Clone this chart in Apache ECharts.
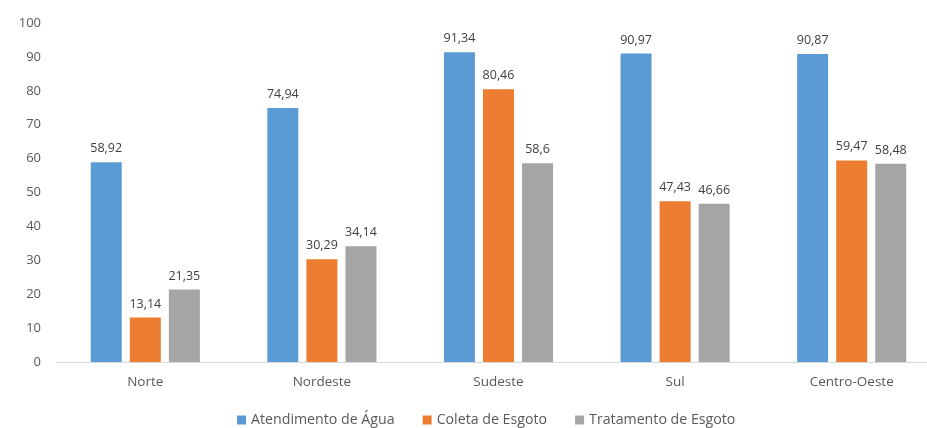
<!DOCTYPE html>
<html><head><meta charset="utf-8">
<script src="https://cdn.jsdelivr.net/npm/echarts@6/dist/echarts.min.js"></script>
<style>html,body{margin:0;padding:0;background:#fff;overflow:hidden}#c{width:940px;height:428px}</style>
</head><body><div id="c"></div>
<script>
const categories = ['Norte', 'Nordeste', 'Sudeste', 'Sul', 'Centro-Oeste'];
const agua = [58.92, 74.94, 91.34, 90.97, 90.87];
const coleta = [13.14, 30.29, 80.46, 47.43, 59.47];
const tratamento = [21.35, 34.14, 58.6, 46.66, 58.48];
const seriesNames = ['Atendimento de Água', 'Coleta de Esgoto', 'Tratamento de Esgoto'];
const colors = ['#5B9BD5', '#ED7D31', '#A5A5A5'];
const FONT = 'Open Sans';
const chart = echarts.init(document.getElementById('c'));
const fmt = p => String(p.value).replace('.', ',');
function mk(name, data, color) {
  return {
    name, type: 'bar', data, barWidth: 31, barGap: '26%',
    itemStyle: { color },
    label: { show: true, position: 'top', distance: 7, formatter: fmt, color: '#404040', fontSize: 12.5, fontFamily: FONT }
  };
}
chart.setOption({
  animation: false,
  textStyle: { fontFamily: FONT },
  grid: { left: 57, top: 23, right: 0, bottom: 66, containLabel: false },
  legend: {
    top: 408, left: 232, itemWidth: 9, itemHeight: 9, itemGap: 28, icon: 'rect',
    textStyle: { color: '#595959', fontSize: 14.2, fontFamily: FONT },
    data: seriesNames
  },
  xAxis: {
    type: 'category', data: categories,
    axisLine: { lineStyle: { color: '#D9D9D9' } },
    axisTick: { show: false },
    axisLabel: { color: '#595959', fontSize: 13.5, margin: 13, fontFamily: FONT }
  },
  yAxis: {
    type: 'value', min: 0, max: 100, interval: 10,
    splitLine: { show: false },
    axisLine: { show: false }, axisTick: { show: false },
    axisLabel: { color: '#595959', fontSize: 13, margin: 16, fontFamily: FONT }
  },
  series: [mk(seriesNames[0], agua, colors[0]), mk(seriesNames[1], coleta, colors[1]), mk(seriesNames[2], tratamento, colors[2])]
});
</script></body></html>
